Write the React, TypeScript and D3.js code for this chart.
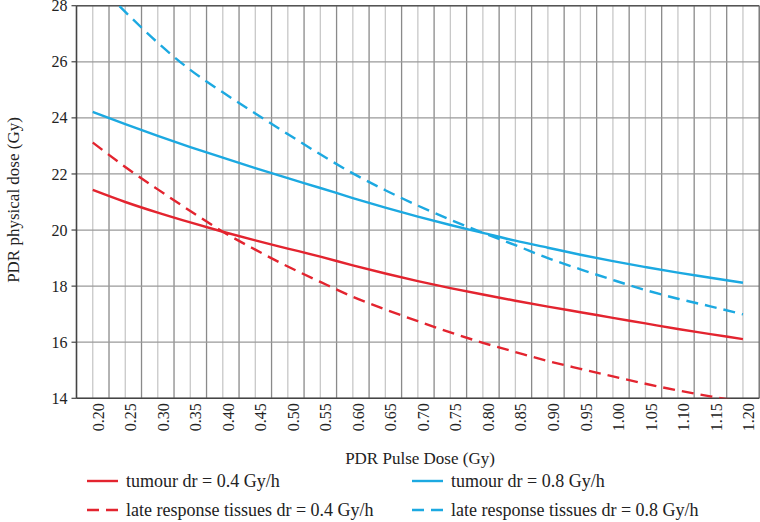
import React from "react";
import * as d3 from "d3";

const pulseDoses = [0.2, 0.25, 0.3, 0.35, 0.4, 0.45, 0.5, 0.55, 0.6, 0.65, 0.7, 0.75, 0.8, 0.85, 0.9, 0.95, 1.0, 1.05, 1.1, 1.15, 1.2];
const tumour04 = [21.43, 21.0, 20.62, 20.27, 19.94, 19.63, 19.34, 19.05, 18.74, 18.45, 18.18, 17.93, 17.7, 17.48, 17.27, 17.07, 16.87, 16.67, 16.47, 16.29, 16.11];
const late04 = [23.12, 22.25, 21.45, 20.68, 19.94, 19.3, 18.7, 18.15, 17.62, 17.17, 16.75, 16.35, 15.98, 15.65, 15.33, 15.05, 14.78, 14.52, 14.28, 14.07, 13.87];
const tumour08 = [24.21, 23.78, 23.36, 22.96, 22.58, 22.21, 21.85, 21.5, 21.14, 20.8, 20.48, 20.18, 19.9, 19.62, 19.37, 19.12, 18.89, 18.68, 18.48, 18.3, 18.12];
const late08 = [28.95, 27.78, 26.68, 25.71, 24.91, 24.16, 23.42, 22.7, 22.02, 21.42, 20.87, 20.37, 19.9, 19.46, 19.0, 18.6, 18.22, 17.86, 17.55, 17.28, 16.99];
const xTicks = [0.2, 0.25, 0.3, 0.35, 0.4, 0.45, 0.5, 0.55, 0.6, 0.65, 0.7, 0.75, 0.8, 0.85, 0.9, 0.95, 1.0, 1.05, 1.1, 1.15, 1.2];
const yTicks = [14, 16, 18, 20, 22, 24, 26, 28];

const seriesNames = ["tumour dr = 0.4 Gy/h", "late response tissues dr = 0.4 Gy/h", "tumour dr = 0.8 Gy/h", "late response tissues dr = 0.8 Gy/h"];

const RED = "#e3242f";
const BLUE = "#1ca9e1";
const FONT = "'Liberation Serif', 'Times New Roman', serif";

export default function App() {
  const W = 760, H = 522;
  const x = d3.scaleLinear().domain([0.175, 1.225]).range([76.5, 759.2]);
  const y = d3.scaleLinear().domain([14, 28]).range([398.3, 5.7]);
  const line = (vals: number[]) =>
    d3.line<number>().x((_, i) => x(pulseDoses[i])).y((v) => y(v)).curve(d3.curveMonotoneX)(vals) || "";

  const midTicks = xTicks.map((t) => t + 0.025).filter((t) => t < 1.22);
  const series = [
    { vals: tumour04, color: RED, dash: null as string | null },
    { vals: late04, color: RED, dash: "12,7" },
    { vals: tumour08, color: BLUE, dash: null },
    { vals: late08, color: BLUE, dash: "12,7" },
  ];
  const legend = [
    { name: seriesNames[0], color: RED, dash: null as string | null, lx: 87, ly: 481 },
    { name: seriesNames[2], color: BLUE, dash: null, lx: 412, ly: 481 },
    { name: seriesNames[1], color: RED, dash: "12,7", lx: 87, ly: 510 },
    { name: seriesNames[3], color: BLUE, dash: "12,7", lx: 412, ly: 510 },
  ];
  const [x0, x1] = x.range();
  const [y0, y1] = y.range();

  return (
    <svg width={W} height={H} style={{ position: "absolute", left: 0, top: 0, background: "#fff" }} fontFamily={FONT}>
      <defs>
        <clipPath id="plot">
          <rect x={x0} y={y1} width={x1 - x0} height={y0 - y1} />
        </clipPath>
      </defs>
      {xTicks.map((t) => (
        <line key={"l" + t} x1={x(t)} x2={x(t)} y1={y1} y2={y0} stroke="#c8c8c8" strokeWidth={1.3} />
      ))}
      {midTicks.map((t) => (
        <line key={"m" + t} x1={x(t)} x2={x(t)} y1={y1} y2={y0} stroke="#8a8a8a" strokeWidth={1.3} />
      ))}
      {yTicks.map((t) => (
        <line key={"h" + t} x1={x0} x2={x1} y1={y(t)} y2={y(t)} stroke="#9a9a9a" strokeWidth={1.3} />
      ))}
      <line x1={x0} x2={x1} y1={y1} y2={y1} stroke="#555" strokeWidth={1.5} />
      <line x1={x1} x2={x1} y1={y1} y2={y0} stroke="#666" strokeWidth={1.3} />
      <line x1={x0} x2={x1} y1={y0} y2={y0} stroke="#444" strokeWidth={1.6} />
      <line x1={x0} x2={x0} y1={y1} y2={y0} stroke="#444" strokeWidth={1.6} />
      <g clipPath="url(#plot)">
        {series.map((s, i) => (
          <path key={i} d={line(s.vals)} fill="none" stroke={s.color} strokeWidth={2.4} strokeDasharray={s.dash || undefined} />
        ))}
      </g>
      {yTicks.map((t) => (
        <g key={"yt" + t}>
          <line x1={x0 - 5} x2={x0} y1={y(t)} y2={y(t)} stroke="#444" strokeWidth={1.2} />
          <text x={x0 - 9} y={y(t)} dy="0.35em" textAnchor="end" fontSize={16} fill="#222">{t}</text>
        </g>
      ))}
      {xTicks.map((t) => (
        <text key={"xt" + t} transform={`translate(${x(t) + 5.5},${y0 + 5}) rotate(-90)`} dy="0.35em" textAnchor="end" fontSize={16} fill="#222">
          {t.toFixed(2)}
        </text>
      ))}
      <text x={420} y={458} dy="0.35em" textAnchor="middle" fontSize={17} fill="#222">PDR Pulse Dose (Gy)</text>
      <text transform="translate(19,200) rotate(-90)" textAnchor="middle" fontSize={17} fill="#222">PDR physical dose (Gy)</text>
      {legend.map((l, i) => (
        <g key={"lg" + i}>
          <line x1={l.lx} x2={l.lx + 31} y1={l.ly} y2={l.ly} stroke={l.color} strokeWidth={2.4} strokeDasharray={l.dash || undefined} />
          <text x={l.lx + 39} y={l.ly} dy="0.35em" fontSize={18} fill="#222">{l.name}</text>
        </g>
      ))}
    </svg>
  );
}
